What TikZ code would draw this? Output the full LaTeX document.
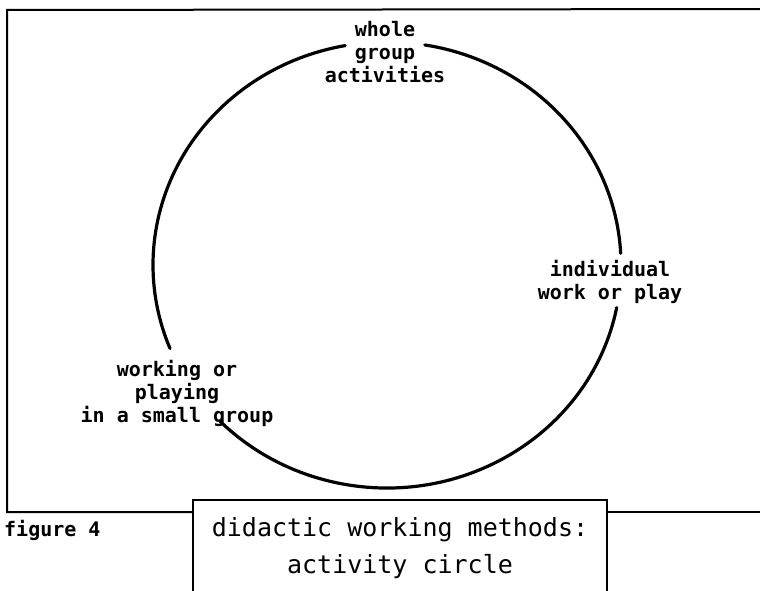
\documentclass[tikz,border=0pt]{standalone}
\usepackage{fontspec}
\newfontfamily\plotfont{DejaVu Sans Mono}
\usetikzlibrary{positioning}

\begin{document}
\begin{tikzpicture}[x=1pt,y=1pt,
    lbl/.style={font=\plotfont\bfseries\fontsize{20}{23}\selectfont, align=center, inner sep=0pt},
    big/.style={font=\plotfont\fontsize{25}{37}\selectfont, align=center, inner sep=0pt},
    ring/.style={line width=3.2pt, line cap=round},
    rule/.style={line width=2pt}]
  \useasboundingbox (0,0) rectangle (760,590);
  % frame and title box
  \draw[rule] (762,581) -- (7,580) -- (7,78) -- (193,78);
  \draw[rule] (607,78) -- (762,78);
  \draw[rule] (193,-2) -- (193,90) -- (607,90) -- (607,-2);
  % labels
  \coordinate (c) at (387,325);
  \node[lbl] (whole) at (385,538) {whole\\group\\activities};
  \node[lbl] (indiv) at (610,308) {individual\\work or play};
  \node[lbl] (small) at (177,197) {working or\\playing\\in a small group};
  \node[big] (title) at (400,42) {didactic working methods:\\activity circle};
  \node[lbl, anchor=west] (fig) at (4,60) {figure 4};
  % the circle, broken by the labels
  \foreach \a/\b in {80.7/3, -11/-135.5, 202/100.3}
    \draw[ring] (c) ++(\a:234 and 223) arc[start angle=\a, end angle=\b, x radius=234, y radius=223];
\end{tikzpicture}
\end{document}
